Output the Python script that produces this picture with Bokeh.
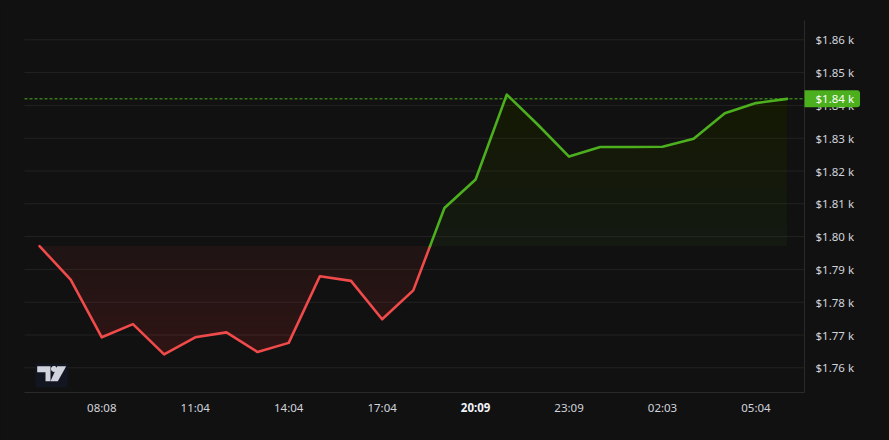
import numpy as np
from bokeh.plotting import figure
from bokeh.models import Range1d, PolyAnnotation
from bokeh.core.properties import value
from bokeh.embed import file_html
from bokeh.resources import INLINE

# ---------------- data ----------------
values = [1797.1, 1786.9, 1769.3, 1773.3, 1764.1, 1769.3, 1770.8, 1764.8, 1767.6,
          1787.9, 1786.5, 1774.8, 1783.6, 1808.7, 1817.4, 1843.3, 1834.1, 1824.4,
          1827.3, 1827.3, 1827.4, 1829.8, 1837.6, 1840.7, 1842.0]
tick_index = [2, 5, 8, 11, 14, 17, 20, 23]
tick_labels = ["08:08", "11:04", "14:04", "17:04", "20:09", "23:09", "02:03", "05:04"]
highlight_label = "20:09"
price_ticks = [1760, 1770, 1780, 1790, 1800, 1810, 1820, 1830, 1840, 1850, 1860]
price_labels = ["$%.2f k" % (t / 1000) for t in price_ticks]

# ---------------- style / layout ----------------
BG = "#111111"
GRID = "#232323"
AXIS = "#2a2a2a"
TXT = "#d1d4dc"
RED = "#f04a4a"
GREEN = "#4caf1e"
FONT = value("Noto Sans")
FS = "11.5px"
W, H = 889, 440
PX_IDX, X0_PX = 31.15, 39.0          # px per index step, px of first point
PX_VAL, REF_V, REF_PX = 3.28, 1860, 39.3   # px per price unit, reference price and its px
FRAME_L, FRAME_R, FRAME_T, FRAME_B = 24, 804, 20, 392

def xd(px):
    return (px - X0_PX) / PX_IDX

def yd(px):
    return REF_V - (px - REF_PX) / PX_VAL

v = np.array(values)
idx = np.arange(len(v))
base = v[0]
left_e, right_e, top_e, bot_e = xd(FRAME_L), xd(FRAME_R), yd(FRAME_T), yd(FRAME_B)

p = figure(width=W, height=H, output_backend="svg", toolbar_location=None,
           x_range=Range1d(xd(0), xd(W)), y_range=Range1d(yd(H), yd(0)),
           min_border=0)
p.background_fill_color = BG
p.border_fill_color = BG
p.outline_line_color = None
p.axis.visible = False
p.grid.visible = False

# horizontal grid
n = len(price_ticks)
p.segment(x0=[left_e] * n, x1=[right_e] * n, y0=price_ticks, y1=price_ticks,
          line_color=GRID, line_width=1)

# gradient fills (layered translucent areas)
xf = np.linspace(idx[0], idx[-1], 2401)
yf = np.interp(xf, idx, v)
N = 16
vmin, vmax = v.min(), v.max()
p.varea(x=xf, y1=np.minimum(yf, base), y2=base, fill_color=RED, fill_alpha=0.07)
p.varea(x=xf, y1=base, y2=np.maximum(yf, base), fill_color=GREEN, fill_alpha=0.05)
for k in range(1, N + 1):
    lr = base - (k / N) * (base - vmin)
    p.varea(x=xf, y1=np.minimum(yf, lr), y2=lr, fill_color=RED, fill_alpha=0.0075)
    lg = base + (k / N) * (vmax - base)
    p.varea(x=xf, y1=lg, y2=np.maximum(yf, lg), fill_color=GREEN, fill_alpha=0.0085)

# line split at baseline crossings
runs = []
cx, cy = [float(idx[0])], [float(v[0])]
for i in range(1, len(v)):
    a, b = v[i - 1] - base, v[i] - base
    if a * b < 0:
        xc = (i - 1) + a / (a - b)
        cx.append(xc); cy.append(base)
        runs.append((cx, cy))
        cx, cy = [xc], [base]
    cx.append(float(i)); cy.append(float(v[i]))
runs.append((cx, cy))
for rx, ry in runs:
    col = GREEN if np.mean(np.array(ry) - base) >= 0 else RED
    p.line(rx, ry, line_color=col, line_width=2.6, line_join="round", line_cap="round")

# last price dashed line
p.segment(x0=[left_e], x1=[right_e], y0=[v[-1]], y1=[v[-1]],
          line_color=GREEN, line_width=1, line_dash="3 2")

# frame borders (right and bottom)
p.segment(x0=[right_e, left_e], x1=[right_e, right_e], y0=[bot_e, bot_e], y1=[top_e, bot_e],
          line_color=AXIS, line_width=1)

# price axis labels
p.text(x=[right_e] * n, y=price_ticks, text=price_labels, x_offset=11,
       text_color=TXT, text_font=FONT, text_font_size=FS,
       text_align="left", text_baseline="middle")

# time axis labels
styles = ["bold" if l == highlight_label else "normal" for l in tick_labels]
colors = ["#f0f3fa" if l == highlight_label else TXT for l in tick_labels]
p.text(x=tick_index, y=[bot_e] * len(tick_index), text=tick_labels, y_offset=15,
       text_color=colors, text_font=FONT, text_font_size=FS, text_font_style=styles,
       text_align="center", text_baseline="middle")

# last price tag
p.text(x=[right_e], y=[v[-1]], text=["$%.2f k" % (v[-1] / 1000)],
       text_color="#ffffff", text_font=FONT, text_font_size=FS,
       text_align="left", text_baseline="middle",
       background_fill_color=GREEN,
       padding=dict(left=11, right=6, top=1, bottom=1),
       border_radius=dict(top_left=0, top_right=3, bottom_right=3, bottom_left=0))

# TradingView logo (screen units relative to the canvas-sized frame)
def poly(xs, ys, color):
    p.add_layout(PolyAnnotation(xs=list(xs), ys=list(ys), xs_units="screen", ys_units="screen",
                                fill_color=color, fill_alpha=1.0, line_color=None))
ox, oy = FRAME_L, H - FRAME_B
poly(np.array([11, 43, 43, 11]) + ox, np.array([5, 5, 29, 29]) + oy, "#121620")
poly(np.array([12.7, 26, 26, 21, 21, 12.7]) + ox, np.array([26.3, 26.3, 11.3, 11.3, 20.3, 20.3]) + oy, TXT)
th = np.linspace(0, 2 * np.pi, 16)
poly(29.5 + 3 * np.cos(th) + ox, 23.6 + 3 * np.sin(th) + oy, TXT)
poly(np.array([26, 33.3, 41.7, 32.7]) + ox, np.array([11.3, 11.3, 26.3, 26.3]) + oy, TXT)

html = file_html(p, INLINE)
html = html.replace("<head>", "<head><style>html,body{background:#111111;}</style>", 1)
open("out.html", "w").write(html)
